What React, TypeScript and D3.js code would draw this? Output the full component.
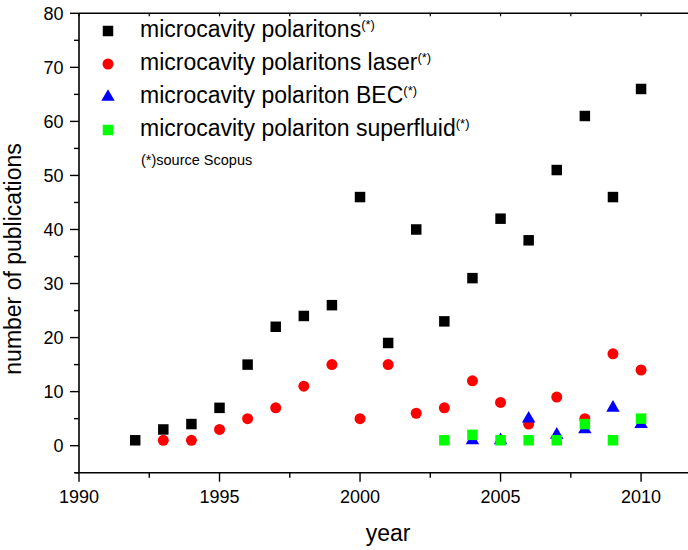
import React from "react";
import * as d3 from "d3";

const years = [1992, 1993, 1994, 1995, 1996, 1997, 1998, 1999, 2000, 2001, 2002, 2003, 2004, 2005, 2006, 2007, 2008, 2009, 2010];
const polaritons = [1, 3, 4, 7, 15, 22, 24, 26, 46, 19, 40, 23, 31, 42, 38, 51, 61, 46, 66];

const laserYears = [1993, 1994, 1995, 1996, 1997, 1998, 1999, 2000, 2001, 2002, 2003, 2004, 2005, 2006, 2007, 2008, 2009, 2010];
const laser = [1, 1, 3, 5, 7, 11, 15, 5, 15, 6, 7, 12, 8, 4, 9, 5, 17, 14];

const becYears = [2004, 2005, 2006, 2007, 2008, 2009, 2010];
const bec = [1, 1, 5, 2, 3, 7, 4];

const fluidYears = [2003, 2004, 2005, 2006, 2007, 2008, 2009, 2010];
const superfluid = [1, 2, 1, 1, 1, 4, 1, 5];

const xMajorTicks = [1990, 1995, 2000, 2005, 2010];
const xMinorTicks = [1992.5, 1997.5, 2002.5, 2007.5];
const yMajorTicks = [0, 10, 20, 30, 40, 50, 60, 70, 80];
const yMinorTicks = [-5, 5, 15, 25, 35, 45, 55, 65, 75];

const legendLabels = [
  "microcavity polaritons",
  "microcavity polaritons laser",
  "microcavity polariton BEC",
  "microcavity polariton superfluid",
];

const W = 688;
const H = 550;
const FONT = "Liberation Sans, Arial, sans-serif";

export default function App() {
  const x = d3.scaleLinear().domain([1990, 2011.67]).range([79, 688]);
  const y = d3.scaleLinear().domain([-5, 80]).range([472.7, 13.3]);

  const sq = d3.symbol().type(d3.symbolSquare).size(110)() as string;
  const circ = d3.symbol().type(d3.symbolCircle).size(95)() as string;
  const tri = d3.symbol().type(d3.symbolTriangle).size(78)() as string;

  const series = [
    { xs: years, ys: polaritons, path: sq, color: "#000000" },
    { xs: laserYears, ys: laser, path: circ, color: "#ff0000" },
    { xs: becYears, ys: bec, path: tri, color: "#0000ff" },
    { xs: fluidYears, ys: superfluid, path: sq, color: "#00ff00" },
  ];

  const x0 = x(1990);
  const yBottom = y(-5);
  const yTop = y(80);

  return (
    <svg width={W} height={H} style={{ position: "absolute", left: 0, top: 0, background: "#fff" }} fontFamily={FONT}>
      <rect x={0} y={0} width={W} height={H} fill="#fff" />
      {/* axes lines */}
      <line x1={75} x2={W} y1={yBottom} y2={yBottom} stroke="#000" strokeWidth={1.6} />
      <line x1={x0} x2={W} y1={yTop} y2={yTop} stroke="#000" strokeWidth={1.6} />
      <line x1={x0} x2={x0} y1={yTop} y2={yBottom} stroke="#000" strokeWidth={1.6} />

      {/* x ticks bottom */}
      {xMajorTicks.map((t) => (
        <g key={"xm" + t}>
          <line x1={x(t)} x2={x(t)} y1={yBottom} y2={yBottom + 9} stroke="#000" strokeWidth={1.4} />
          <text x={x(t)} y={503} textAnchor="middle" fontSize={18} fill="#000">{t}</text>
          <line x1={x(t)} x2={x(t)} y1={yTop} y2={yTop + 3} stroke="#000" strokeWidth={1.2} />
        </g>
      ))}
      {xMinorTicks.map((t) => (
        <g key={"xn" + t}>
          <line x1={x(t)} x2={x(t)} y1={yBottom} y2={yBottom + 5} stroke="#000" strokeWidth={1.4} />
          <line x1={x(t)} x2={x(t)} y1={yTop} y2={yTop + 3} stroke="#000" strokeWidth={1.2} />
        </g>
      ))}

      {/* y ticks */}
      {yMajorTicks.map((t) => (
        <g key={"ym" + t}>
          <line x1={x0 - 9} x2={x0} y1={y(t)} y2={y(t)} stroke="#000" strokeWidth={1.4} />
          <text x={63.5} y={y(t)} dy="0.36em" textAnchor="end" fontSize={18} fill="#000">{t}</text>
        </g>
      ))}
      {yMinorTicks.map((t) => (
        <line key={"yn" + t} x1={x0 - 5} x2={x0} y1={y(t)} y2={y(t)} stroke="#000" strokeWidth={1.4} />
      ))}

      {/* axis titles */}
      <text x={388} y={541} textAnchor="middle" fontSize={23} fill="#000">year</text>
      <text transform="translate(21,259) rotate(-90)" textAnchor="middle" fontSize={23} fill="#000">number of publications</text>

      {/* data */}
      {series.map((s, i) => (
        <g key={"s" + i} fill={s.color}>
          {s.xs.map((yr, j) => (
            <path key={j} d={s.path} transform={`translate(${x(yr)},${y(s.ys[j])})`} />
          ))}
        </g>
      ))}

      {/* legend */}
      {legendLabels.map((lab, i) => {
        const cy = 31 + i * 33;
        return (
          <g key={"l" + i}>
            <path d={series[i].path} fill={series[i].color} transform={`translate(108,${cy})`} />
            <text x={140} y={cy + 5.7} fontSize={23} fill="#000">
              {lab}
              <tspan dy={-8} fontSize={13}>(*)</tspan>
            </text>
          </g>
        );
      })}
      <text x={141} y={165} fontSize={14.5} fill="#000">(*)source Scopus</text>
    </svg>
  );
}
